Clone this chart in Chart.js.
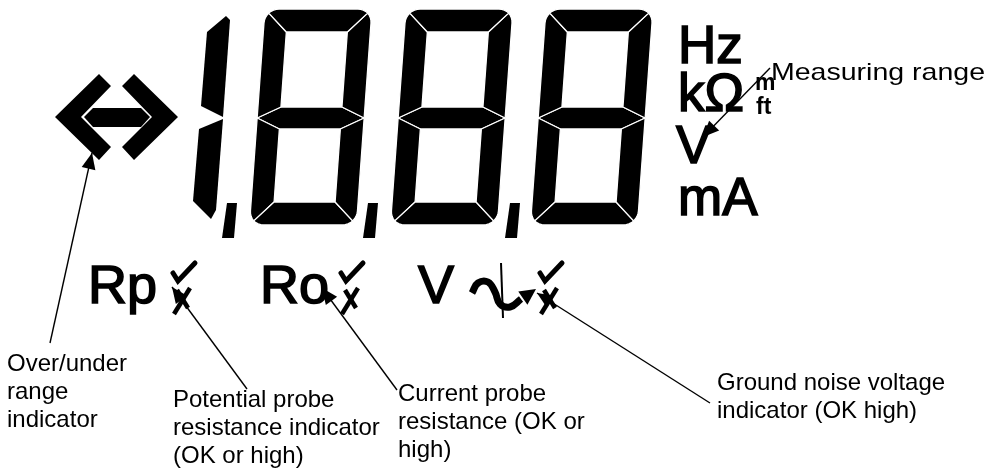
<!DOCTYPE html>
<html lang="en">
<head>
<meta charset="UTF-8">
<title>LCD display</title>
<style>
  html, body { margin: 0; padding: 0; background: #fff; }
  #chart-container { width: 991px; height: 468px; }
</style>
</head>
<body>
<div id="chart-container"><canvas id="myChart"></canvas></div>
<script src="https://cdn.jsdelivr.net/npm/chart.js"></script>
<script>
// data space = picture space (x to the right, y downwards)
const xRange = [0, 991];
const yRange = [0, 468];

// seven segment "8" digits: left edge of outer box at the top
const digitX = [265, 406, 546];
const digitTop = 9;
// width, height, stroke, middle line, corner radius, slant
const digitShape = [107, 216, 23, 109, 14, 0.072];

// the leading "1" (two segments)
const oneUpper = [[207, 32], [226, 16], [230, 20], [223, 117], [201, 106]];
const oneLower = [[223, 119], [199, 129], [193, 201], [211, 219], [216, 210]];

// decimal commas, left x of the bottom edge
const commaX = [222, 363, 505];
const commaShape = [[5, 203], [15, 203], [12, 238], [0, 238]];

// over / under range symbol
const leftChevron = [[55, 117], [99, 74], [111, 86], [81, 117], [111, 147], [99, 160]];
const rightChevron = [[178, 117], [134, 74], [122, 86], [152, 117], [122, 147], [134, 160]];
const rangeBar = [[84, 117], [93, 108], [141, 108], [150, 117], [141, 127], [93, 127]];

// unit symbols
const unitLabels = [
  { text: 'Hz', x: 678, y: 63, size: 53 },
  { text: 'kΩ', x: 678, y: 111, size: 53 },
  { text: 'm', x: 755, y: 90, size: 23, bold: true },
  { text: 'ft', x: 756, y: 114, size: 23, bold: true },
  { text: 'V', x: 676, y: 163, size: 53 },
  { text: 'mA', x: 678, y: 215, size: 53 },
  { text: 'Rp', x: 88, y: 303, size: 54 },
  { text: 'Ro', x: 260, y: 303, size: 54 },
  { text: 'V', x: 418, y: 303, size: 54 }
];

// OK / high indicators (top-left of check mark)
const indicatorPos = [[172, 262], [340, 262], [539, 262]];
const checkMark = [[1, 11], [6, 19], [23, 1]];
const crossA = [[5, 28], [16, 46]];
const crossB = [[18, 26], [2, 52]];

// ground noise symbol
const noiseWave = [[472, 293], [478, 283], [488, 282], [495, 292], [500, 304], [510, 307], [521, 299]];
const noiseSpike = [[500, 263], [502, 263], [504, 318], [502, 318]];

// callouts: text lines, position of first baseline, leader line from -> to
const callouts = [
  { lines: ['Measuring range'], x: 771, y: 80, width: 214, from: [770, 68], to: [703, 137] },
  { lines: ['Over/under', 'range', 'indicator'], x: 7, y: 371, from: [50, 343], to: [92, 153] },
  { lines: ['Potential probe', 'resistance indicator', '(OK or high)'], x: 173, y: 407, from: [247, 389], to: [172, 287] },
  { lines: ['Current probe', 'resistance (OK or', 'high)'], x: 398, y: 401, from: [397, 390], to: [322, 288] },
  { lines: ['Ground noise voltage', 'indicator (OK high)'], x: 717, y: 390, from: [710, 403], to: [537, 293] }
];
const lineStep = 28;

// ---------- geometry helpers ----------
const pts = arr => arr.map(p => ({ x: p[0], y: p[1] }));

function arc(cx, cy, r, a0, a1) {
  const out = [];
  for (let i = 0; i <= 4; i++) {
    const a = (a0 + (a1 - a0) * i / 4) * Math.PI / 180;
    out.push([cx + r * Math.cos(a), cy + r * Math.sin(a)]);
  }
  return out;
}

function digitSegments(x0) {
  const [W, H, t, m, r, s] = digitShape;
  const h = 11;
  const segs = [
    [...arc(r, r, r, -135, -90), ...arc(W - r, r, r, -90, -45), [W - t, t], [t, t]],
    [...arc(W - r, r, r, -45, 0), [W, m], [W - t, m - h], [W - t, t]],
    [[W, m], ...arc(W - r, H - r, r, 0, 45), [W - t, H - t], [W - t, m + h]],
    [...arc(W - r, H - r, r, 45, 90), ...arc(r, H - r, r, 90, 135), [t, H - t], [W - t, H - t]],
    [...arc(r, H - r, r, 135, 180), [0, m], [t, m + h], [t, H - t]],
    [[0, m], ...arc(r, r, r, 180, 225), [t, t], [t, m - h]],
    [[0, m], [t, m - h], [W - t, m - h], [W, m], [W - t, m + h], [t, m + h]]
  ];
  return segs.map(seg => seg.map(([u, v]) => [x0 + u - s * v, digitTop + v]));
}

function arrowHead(from, to, len, half) {
  const dx = to[0] - from[0], dy = to[1] - from[1];
  const d = Math.hypot(dx, dy);
  const ux = dx / d, uy = dy / d;
  const bx = to[0] - ux * len, by = to[1] - uy * len;
  return [to, [bx - uy * half, by + ux * half], [bx + uy * half, by - ux * half]];
}

const shift = (arr, dx, dy) => arr.map(([x, y]) => [x + dx, y + dy]);

// ---------- datasets ----------
const datasets = [];
const polygon = (arr, gap) => datasets.push({
  data: pts(arr), polygon: true, gapWidth: gap || 0,
  backgroundColor: '#000', pointRadius: 0, showLine: false
});
const stroke = (arr, width, extra) => datasets.push(Object.assign({
  data: pts(arr), showLine: true, borderColor: '#000', borderWidth: width,
  pointRadius: 0, fill: false
}, extra || {}));

// callout leaders first so they sit on top
callouts.forEach(c => {
  stroke([c.from, c.to], 1.4);
  polygon(arrowHead(c.from, c.to, 16, 7));
});

// indicators
indicatorPos.forEach(([ox, oy]) => {
  stroke(shift(checkMark, ox, oy), 5, { borderJoinStyle: 'miter', borderCapStyle: 'round' });
  stroke(shift(crossA, ox, oy), 4.5, { borderCapStyle: 'butt' });
  stroke(shift(crossB, ox, oy), 4.5, { borderCapStyle: 'butt' });
});

// ground noise symbol
stroke(noiseWave, 7, { tension: 0.45, borderCapStyle: 'butt' });
polygon(arrowHead(noiseWave[noiseWave.length - 2], [536, 289], 16, 8));
polygon(noiseSpike);

// digits
digitX.forEach(x0 => digitSegments(x0).forEach(seg => polygon(seg, 1.3)));
polygon(oneUpper);
polygon(oneLower);
commaX.forEach(x0 => polygon(shift(commaShape, x0, 0)));

// range symbol
polygon(leftChevron);
polygon(rightChevron);
polygon(rangeBar);

// ---------- plugins ----------
const polygonFill = {
  id: 'polygonFill',
  beforeDatasetDraw(chart, args) {
    const ds = chart.data.datasets[args.index];
    if (!ds.polygon) return;
    const ctx = chart.ctx;
    ctx.save();
    ctx.beginPath();
    args.meta.data.forEach((p, i) => i ? ctx.lineTo(p.x, p.y) : ctx.moveTo(p.x, p.y));
    ctx.closePath();
    ctx.fillStyle = ds.backgroundColor;
    ctx.fill();
    if (ds.gapWidth) {
      ctx.strokeStyle = '#fff';
      ctx.lineWidth = ds.gapWidth;
      ctx.lineJoin = 'round';
      ctx.stroke();
    }
    ctx.restore();
    return false;
  }
};

const textLabels = {
  id: 'textLabels',
  afterDatasetsDraw(chart) {
    const ctx = chart.ctx;
    const xs = chart.scales.x, ys = chart.scales.y;
    ctx.save();
    ctx.fillStyle = '#000';
    ctx.strokeStyle = '#000';
    ctx.textBaseline = 'alphabetic';
    unitLabels.forEach(l => {
      ctx.font = (l.bold ? 'bold ' : '') + l.size + 'px "Liberation Sans", Arial, sans-serif';
      const px = xs.getPixelForValue(l.x), py = ys.getPixelForValue(l.y);
      ctx.fillText(l.text, px, py);
      if (!l.bold) { ctx.lineWidth = 1.6; ctx.strokeText(l.text, px, py); }
    });
    ctx.font = '24px "Liberation Sans", Arial, sans-serif';
    callouts.forEach(c => {
      c.lines.forEach((line, i) => {
        const px = xs.getPixelForValue(c.x), py = ys.getPixelForValue(c.y + i * lineStep);
        if (c.width) {
          const sx = c.width / ctx.measureText(line).width;
          ctx.save();
          ctx.translate(px, py);
          ctx.scale(sx, 1);
          ctx.fillText(line, 0, 0);
          ctx.restore();
        } else {
          ctx.fillText(line, px, py);
        }
      });
    });
    ctx.restore();
  }
};

new Chart(document.getElementById('myChart'), {
  type: 'scatter',
  data: { datasets },
  options: {
    responsive: true,
    maintainAspectRatio: false,
    animation: false,
    events: [],
    layout: { padding: 0 },
    plugins: { legend: { display: false }, tooltip: { enabled: false } },
    scales: {
      x: { type: 'linear', display: false, min: xRange[0], max: xRange[1] },
      y: { type: 'linear', display: false, min: yRange[0], max: yRange[1], reverse: true }
    }
  },
  plugins: [polygonFill, textLabels]
});
</script>
</body>
</html>
